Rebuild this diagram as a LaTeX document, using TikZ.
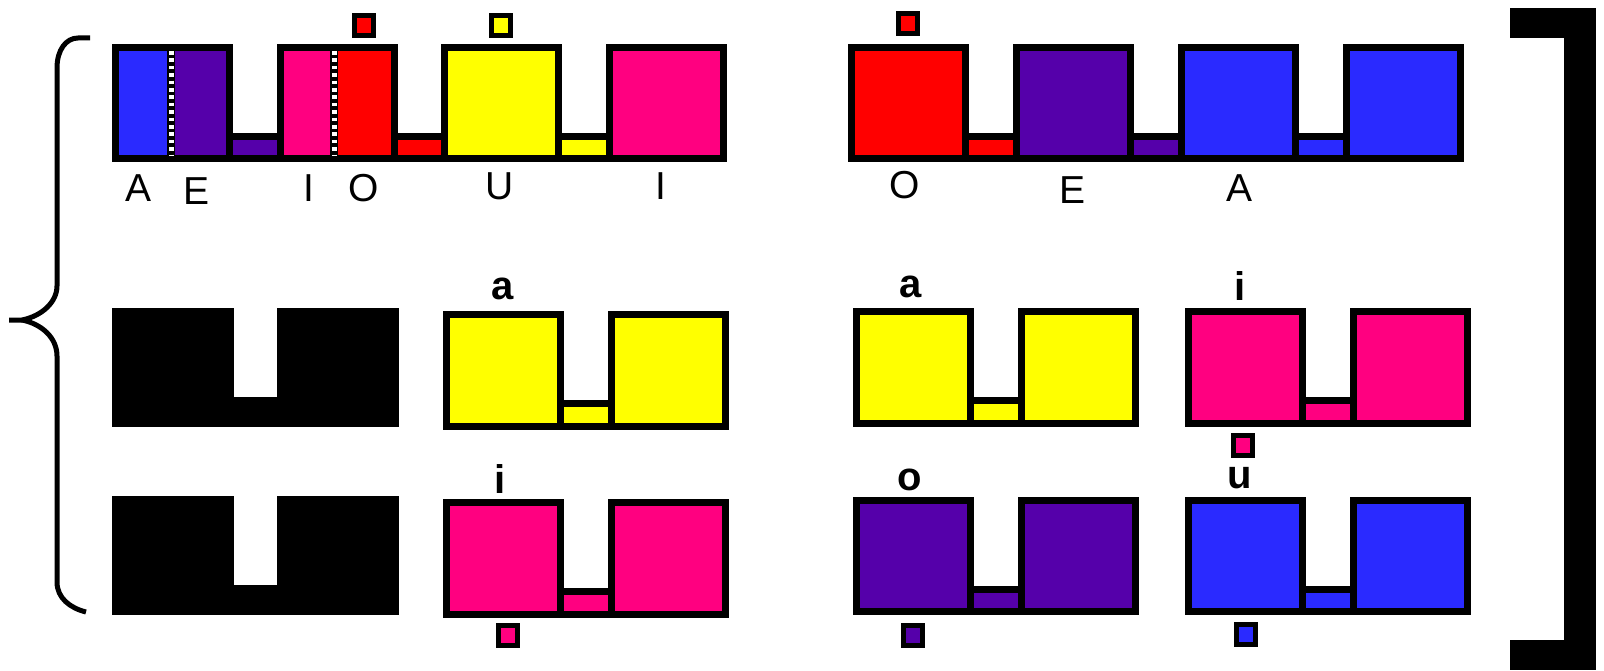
\documentclass[tikz,border=0pt]{standalone}
\usepackage{fontspec}
\setmainfont{Liberation Sans}
\definecolor{vblue}{RGB}{42,42,255}
\definecolor{vpurple}{RGB}{85,0,170}
\definecolor{vpink}{RGB}{255,0,128}
\definecolor{vred}{RGB}{255,0,0}
\definecolor{vyellow}{RGB}{255,255,0}
% bordered tall block: x0, x1, top, bottom, colour
\newcommand\cblock[5]{%
  \fill[black] (#1,#3) rectangle (#2,#4);
  \fill[#5] (#1+7,#3+7) rectangle (#2-7,#4-7);}
% low connector: x0, x1, ctop, bottom, colour
\newcommand\cconn[5]{%
  \fill[black] (#1,#3) rectangle (#2,#4);
  \fill[#5] (#1,#3+7) rectangle (#2,#4-7);}
% pair unit: x0, top, bottom, colour
\newcommand\upair[4]{%
  \cconn{#1+121}{#1+165}{#2+89}{#3}{#4}
  \cblock{#1}{#1+121}{#2}{#3}{#4}
  \cblock{#1+165}{#1+286}{#2}{#3}{#4}}
% black notched shape: x0, top, bottom
\newcommand\ublack[3]{%
  \fill[black] (#1,#2) rectangle (#1+122,#3);
  \fill[black] (#1+122,#2+89) rectangle (#1+165,#3);
  \fill[black] (#1+165,#2) rectangle (#1+287,#3);}
% small square: x, y (top-left), colour
\newcommand\smsq[3]{%
  \fill[black] (#1,#2) rectangle (#1+24,#2+25);
  \fill[#3] (#1+5,#2+5) rectangle (#1+19,#2+20);}
\begin{document}
\begin{tikzpicture}[x=1pt,y=-1pt,
  lab/.style={font=\fontsize{39}{46}\selectfont, inner sep=0pt, anchor=base},
  labl/.style={font=\bfseries\fontsize{40}{48}\selectfont, inner sep=0pt, anchor=base},
  sep/.style={line width=8pt, black},
  sepw/.style={line width=5pt, white, dash pattern=on 3.7pt off 3.7pt}]
\useasboundingbox (0,0) rectangle (1604,671);
\fill[white] (0,0) rectangle (1604,671);

% ---------- top-left unit ----------
\cconn{233}{276.5}{133}{162}{vpurple}
\cconn{397.5}{441}{133}{162}{vred}
\cconn{562}{605.5}{133}{162}{vyellow}
\fill[black] (112,44) rectangle (233,162);
\fill[vblue] (119,51) rectangle (172,155);
\fill[vpurple] (172,51) rectangle (226,155);
\draw[sep] (171,50) -- (171,156);
\draw[sepw] (171,51) -- (171,155);
\fill[black] (276.5,44) rectangle (397.5,162);
\fill[vpink] (283.5,51) rectangle (335,155);
\fill[vred] (335,51) rectangle (390.5,155);
\draw[sep] (334,50) -- (334,156);
\draw[sepw] (334,51) -- (334,155);
\cblock{441}{562}{44}{162}{vyellow}
\cblock{605.5}{726.5}{44}{162}{vpink}
\smsq{352}{13}{vred}
\smsq{488.5}{13}{vyellow}

\node[lab] (lA1) at (138.5,202) {A};
\node[lab] (lE1) at (196.5,205) {E};
\node[lab] (lI1) at (309,202) {I};
\node[lab] (lO1) at (363.5,202) {O};
\node[lab] (lU1) at (500,200) {U};
\node[lab] (lI2) at (661,200) {I};

% ---------- top-right unit ----------
\cconn{968.5}{1012.5}{133}{162}{vred}
\cconn{1133.5}{1177.5}{133}{162}{vpurple}
\cconn{1298.5}{1342.5}{133}{162}{vblue}
\cblock{847.5}{968.5}{44}{162}{vred}
\cblock{1012.5}{1133.5}{44}{162}{vpurple}
\cblock{1177.5}{1298.5}{44}{162}{vblue}
\cblock{1342.5}{1463.5}{44}{162}{vblue}
\smsq{896}{11}{vred}

\node[lab] (lO2) at (905,199) {O};
\node[lab] (lE2) at (1072,204) {E};
\node[lab] (lA2) at (1239,202) {A};

% ---------- middle and bottom rows ----------
\ublack{112}{308}{427}
\ublack{112}{496}{615}
\upair{443}{311}{430}{vyellow}
\upair{443}{499}{618}{vpink}
\upair{852.5}{308}{427}{vyellow}
\upair{1185}{308}{427}{vpink}
\upair{852.5}{497}{615}{vpurple}
\upair{1185}{497}{615}{vblue}
\smsq{496}{623}{vpink}
\smsq{1231}{433}{vpink}
\smsq{901}{623}{vpurple}
\smsq{1233.5}{622}{vblue}

\node[labl] (la1) at (503,299) {a};
\node[labl] (la2) at (911,297) {a};
\node[labl] (li1) at (1240,300) {i};
\node[labl] (li2) at (500,493) {i};
\node[labl] (lo1) at (910,490) {o};
\node[labl] (lu1) at (1240,488) {u};

% ---------- brace ----------
\draw[line width=5pt, line cap=butt, line join=round]
  (90,38) -- (78,38) .. controls (66,38) and (57,50) .. (57,68)
  -- (57,286) .. controls (57,302) and (42,316) .. (22,320) -- (9,320);
\draw[line width=5pt, line cap=butt, line join=round]
  (22,320) .. controls (42,324) and (57,338) .. (57,356)
  -- (57,582) .. controls (57,598) and (70,608) .. (86,612);

% ---------- bracket ----------
\fill[black] (1510,8) rectangle (1596,38);
\fill[black] (1564,8) rectangle (1596,670);
\fill[black] (1510,640) rectangle (1596,670);
\end{tikzpicture}
\end{document}
